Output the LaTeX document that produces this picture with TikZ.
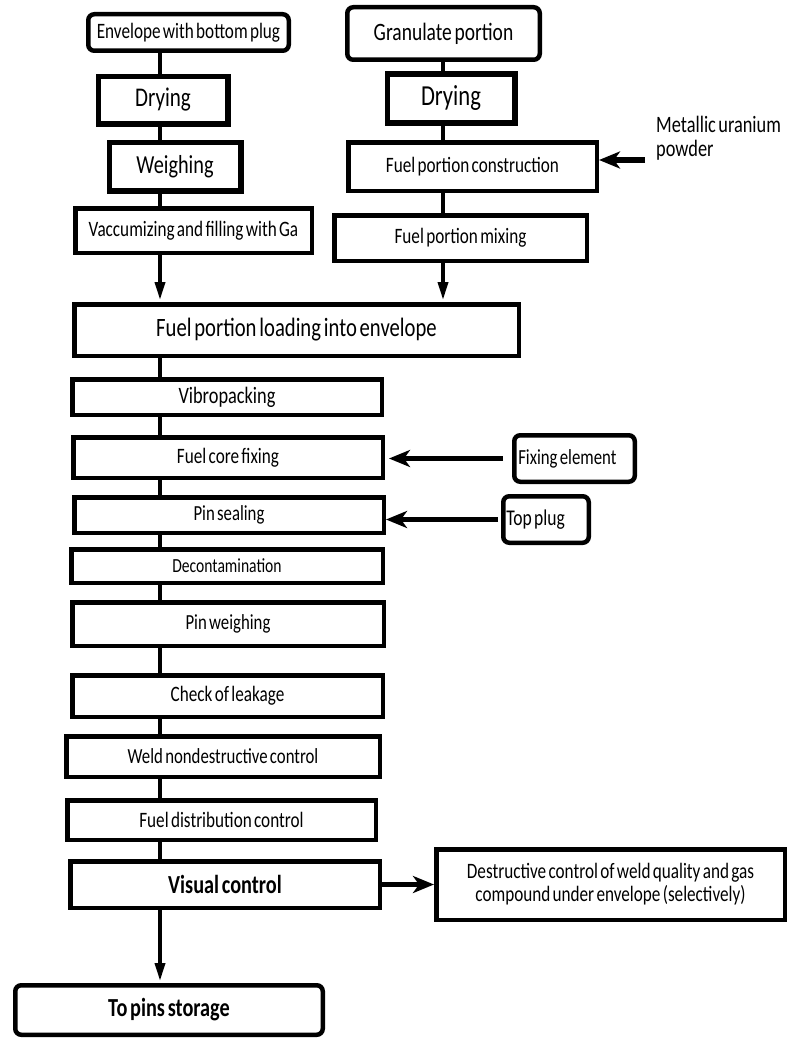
\documentclass[tikz,border=0pt]{standalone}
\usepackage{fontspec}
\setmainfont{Carlito}[FakeStretch=0.78,WordSpace=0.6]
\usetikzlibrary{arrows.meta}
\newcommand{\fsz}[1]{\fontsize{#1}{#1}\selectfont}

\begin{document}
\begin{tikzpicture}[x=1pt,y=-1pt,
  stage/.style args={#1x#2}{draw,line width=4.5pt,inner sep=0pt,align=center,
    minimum width=#1pt,minimum height=#2pt,font=\fsz{22}},
  heavy/.style={line width=5.5pt},
  soft/.style={rounded corners=6pt},
  link/.style={line width=3.5pt},
  flow/.style={line width=3.5pt,shorten >=2pt,-{Triangle[length=18pt,width=10pt]}},
  feed/.style={line width=5.5pt,-{Stealth[length=21pt,width=17pt,inset=6pt]}}]

\useasboundingbox (0,0) rectangle (788,1041);

% spines of the two columns
\coordinate (sl) at (160,0);
\coordinate (sr) at (443,0);

% left column: envelope preparation
\node[stage=200.5x36.5,soft] (env) at (188.5,32.5) {Envelope with bottom plug};
\node[stage=129.5x47.5,heavy,font=\fsz{27}] (dry1) at (163,100) {Drying};
\node[stage=131.5x48.5,heavy,font=\fsz{26}] (weigh) at (175,166.5) {Weighing};
\node[stage=236.5x44.5] (vac) at (193.5,230.5) {Vaccumizing and filling with Ga};

% right column: fuel portion preparation
\node[stage=192.5x52.5,soft,font=\fsz{25}] (gran) at (443.5,33.5) {Granulate portion};
\node[stage=127.5x48.5,heavy,font=\fsz{29}] (dry2) at (451,98.5) {Drying};
\node[stage=248.5x48.5] (fpc) at (472.5,166.5) {Fuel portion construction};
\node[stage=252.5x45.5] (fpm) at (460.5,238) {Fuel portion mixing};

% main line
\node[stage=444.5x51.5,font=\fsz{26.5}] (load) at (296.5,330) {Fuel portion loading into envelope};
\node[stage=309.5x35.5,font=\fsz{23.5}] (vibro) at (227,397) {Vibropacking};
\node[stage=309.5x40.5] (fcf) at (228,457.5) {Fuel core fixing};
\node[stage=309.5x35.5,font=\fsz{21.5}] (ps) at (229,515) {Pin sealing};
\node[stage=311.5x33.5,font=\fsz{20}] (decon) at (227,566) {Decontamination};
\node[stage=311.5x43.5,font=\fsz{21.5}] (pw) at (228,624) {Pin weighing};
\node[stage=310.5x41.5] (leak) at (227.5,696) {Check of leakage};
\node[stage=313.5x40.5,font=\fsz{21.5}] (weld) at (223,756.5) {Weld nondestructive control};
\node[stage=308.5x39.5] (fdc) at (221.5,820) {Fuel distribution control};
\node[stage=309.5x46.5,font=\fsz{26}\bfseries] (vis) at (225,884.5) {Visual control};
\node[stage=307.5x49.5,soft,font=\fsz{26}\bfseries] (store) at (169,1010) {To pins storage};

% side inputs and outputs
\node[draw,line width=4.5pt,soft,minimum height=46.5pt,inner xsep=4pt,inner ysep=0pt,
  font=\fsz{21.5}] (fix) at (574.5,458.5) {\makebox[112.5pt][l]{Fixing element}};
\node[draw,line width=4.5pt,soft,minimum height=46.5pt,inner xsep=3pt,inner ysep=0pt,
  font=\fsz{22.5}] (top) at (546,519.5) {\makebox[79.5pt][l]{Top plug}};
\node[stage=348.5x70.5,font=\fontsize{22}{23}\selectfont] (destr) at (610.5,884.5)
  {Destructive control of weld quality and gas\\compound under envelope (selectively)};
\node[anchor=north west,align=left,inner sep=0pt,font=\fontsize{23.5}{23.5}\selectfont]
  (mu) at (656,116) {Metallic uranium\\powder};
\coordinate (mu-in) at (645,160);

% left column links
\draw[link] (env.south -| sl) -- (dry1.north -| sl);
\draw[link] (dry1.south -| sl) -- (weigh.north -| sl);
\draw[link] (weigh.south -| sl) -- (vac.north -| sl);
\draw[flow] (vac.south -| sl) -- (load.north -| sl);

% right column links
\draw[link] (gran.south -| sr) -- (dry2.north -| sr);
\draw[link] (dry2.south -| sr) -- (fpc.north -| sr);
\draw[link] (fpc.south -| sr) -- (fpm.north -| sr);
\draw[flow] (fpm.south -| sr) -- (load.north -| sr);

% main line links
\draw[link] (load.south -| sl) -- (vibro.north -| sl);
\draw[link] (vibro.south -| sl) -- (fcf.north -| sl);
\draw[link] (fcf.south -| sl) -- (ps.north -| sl);
\draw[link] (ps.south -| sl) -- (decon.north -| sl);
\draw[link] (decon.south -| sl) -- (pw.north -| sl);
\draw[link] (pw.south -| sl) -- (leak.north -| sl);
\draw[link] (leak.south -| sl) -- (weld.north -| sl);
\draw[link] (weld.south -| sl) -- (fdc.north -| sl);
\draw[link] (fdc.south -| sl) -- (vis.north -| sl);
\draw[flow] (vis.south -| sl) -- (store.north -| sl);

% side arrows
\draw[feed] (mu-in) -- (fpc.east |- mu-in);
\draw[feed,shorten <=9pt,shorten >=4pt] (fix.west) -- (fcf.east |- fix.west);
\draw[feed,shorten <=3pt] (top.west) -- (ps.east |- top.west);
\draw[feed] (vis.east) -- (destr.west);
\end{tikzpicture}
\end{document}
